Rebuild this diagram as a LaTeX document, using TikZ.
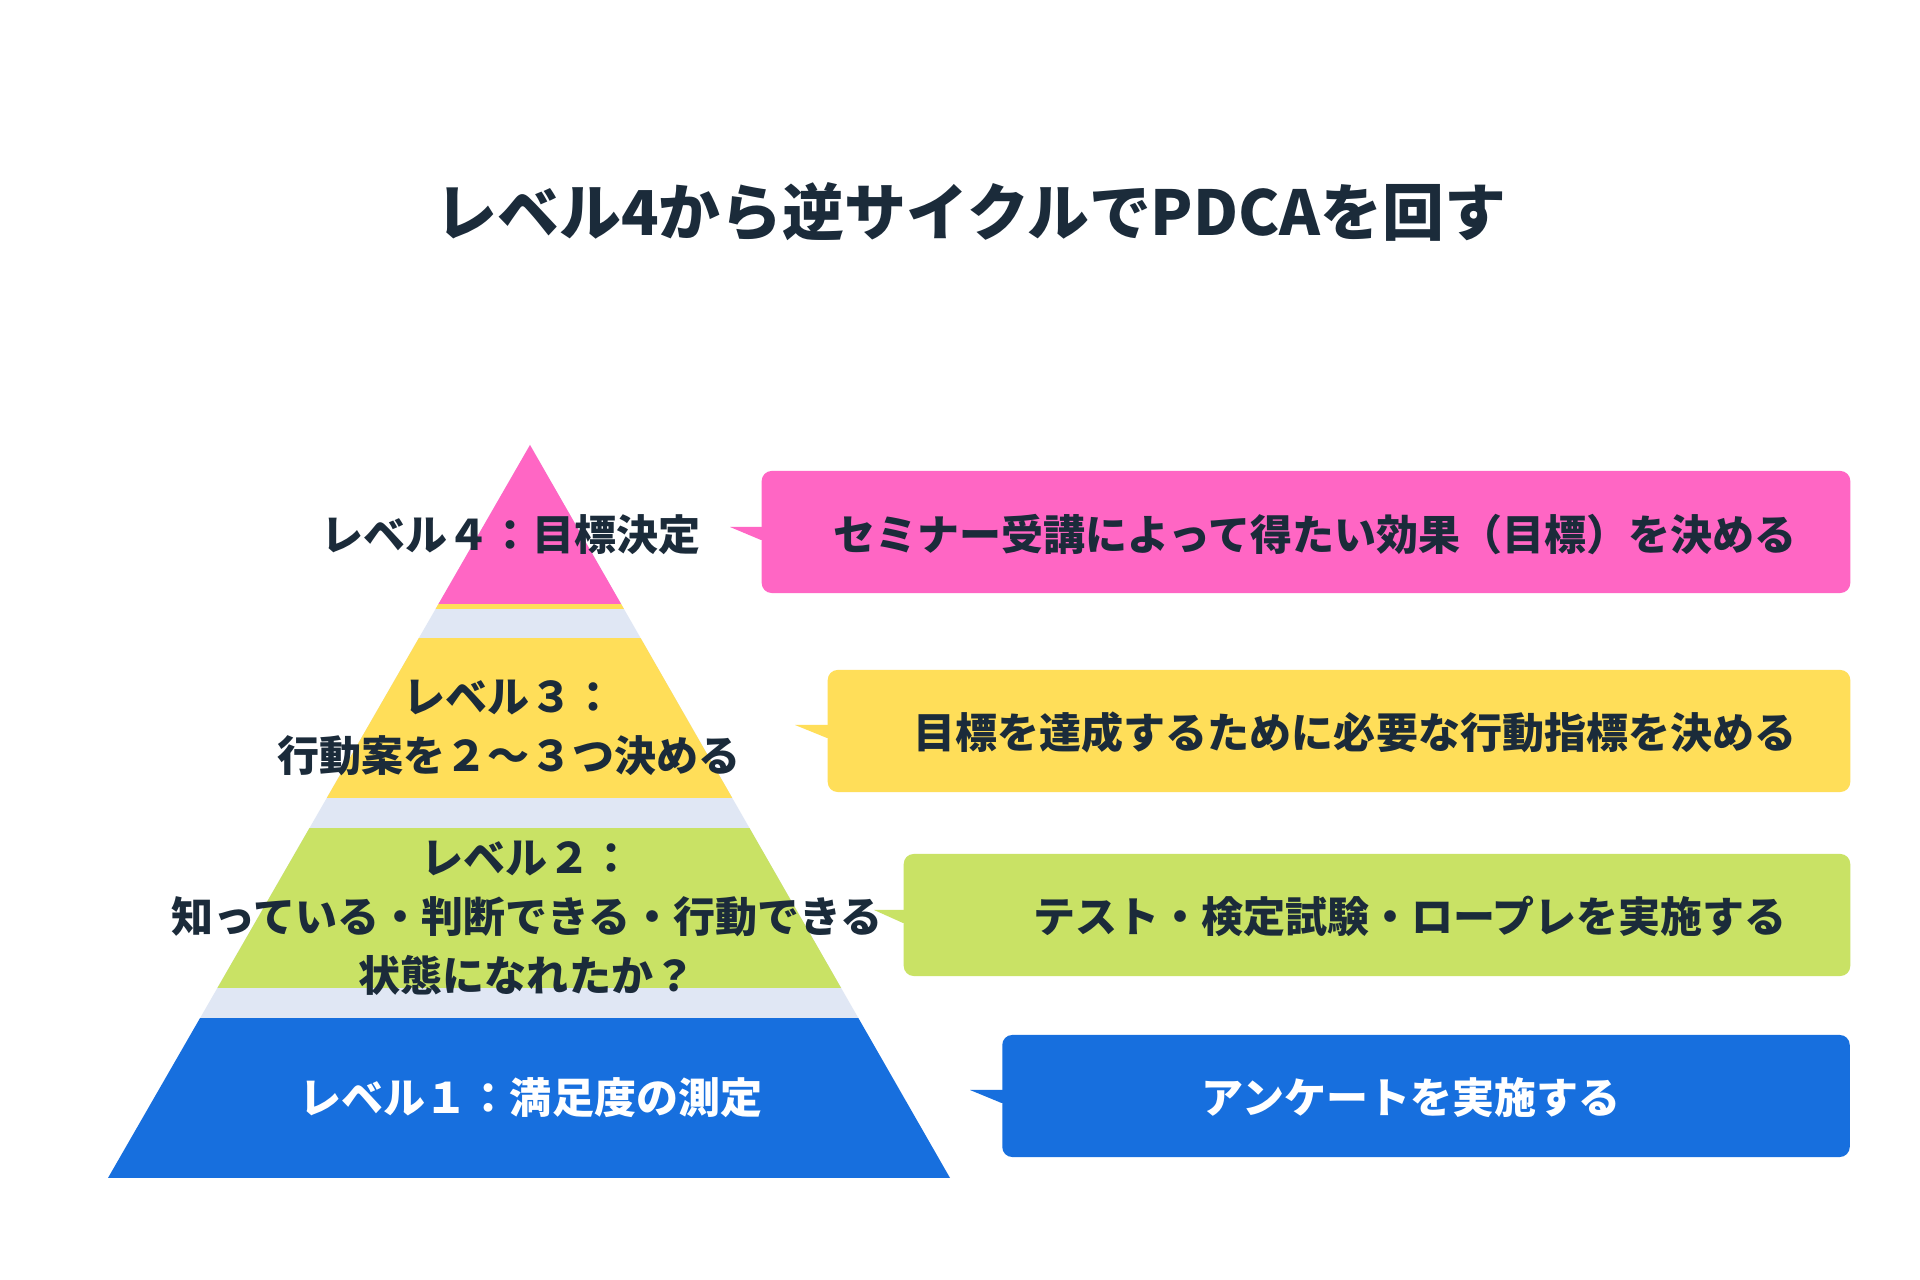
\documentclass[tikz,border=0pt]{standalone}
\usepackage{fontspec}
\newfontfamily\jpfont{Noto Sans CJK JP}
\usetikzlibrary{positioning}

\definecolor{lvpink}{HTML}{FF66C4}
\definecolor{lvyellow}{HTML}{FFDE59}
\definecolor{lvgreen}{HTML}{C9E265}
\definecolor{lvblue}{HTML}{176FDE}
\definecolor{lvgap}{HTML}{E0E7F4}
\definecolor{ink}{HTML}{1B2B3A}

\begin{document}
\begin{tikzpicture}[
    x=0.01cm, y=-0.01cm,
    every node/.style={font=\jpfont\bfseries\fontsize{11.95}{16.8}\selectfont, text=ink, inner sep=0pt},
    heading/.style={font=\jpfont\bfseries\fontsize{17.6}{20}\selectfont},
    level/.style={align=center},
    callout/.style={rectangle, rounded corners=1mm, minimum height=1.22cm},
    pointer/.style={fill=#1}
]

% Canvas
\fill[white] (0,0) rectangle (1920,1280);
\useasboundingbox (0,0) rectangle (1920,1280);

% Title
\node[heading] (title) at (971,212) {レベル4から逆サイクルでPDCAを回す};

% Pyramid
\coordinate (apex) at (530,445);
\coordinate (baseL) at (108,1178);
\coordinate (baseR) at (950,1178);
\fill[lvgap] (apex) -- (baseL) -- (baseR) -- cycle;
\begin{scope}
  \clip (apex) -- (baseL) -- (baseR) -- cycle;
  \fill[lvpink] (100,440) rectangle (960,604);
  \fill[lvyellow] (100,604) rectangle (960,609);
  \fill[lvyellow] (100,638) rectangle (960,798);
  \fill[lvgreen] (100,828) rectangle (960,988);
  \fill[lvblue] (100,1018) rectangle (960,1180);
\end{scope}

% Levels
\node[level] (lv4) at (511,535) {レベル４：目標決定};
\node[level] (lv3) at (509,728) {レベル３：\\行動案を２〜３つ決める};
\node[level] (lv2) at (527,918) {レベル２：\\知っている・判断できる・行動できる\\状態になれたか？};
\node[level, text=white] (lv1) at (531,1098) {レベル１：満足度の測定};

% Callouts
\node[callout, fill=lvpink, minimum width=10.88cm] (box4) at (1306,532) {};
\node[callout, fill=lvyellow, minimum width=10.22cm] (box3) at (1339,731) {};
\node[callout, fill=lvgreen, minimum width=9.46cm] (box2) at (1377,915) {};
\node[callout, fill=lvblue, minimum width=8.47cm] (box1) at (1426,1096) {};

\coordinate (tip4) at (730,527);
\coordinate (tip3) at (795,725);
\coordinate (tip2) at (874,910);
\coordinate (tip1) at (970,1090);

\fill[pointer=lvpink] (tip4) -- ([xshift=1mm] tip4 -| box4.west) -- ([xshift=1mm, yshift=-1.3mm] tip4 -| box4.west) -- ([yshift=-1.3mm] tip4 -| box4.west) -- cycle;
\fill[pointer=lvyellow] (tip3) -- ([xshift=1mm] tip3 -| box3.west) -- ([xshift=1mm, yshift=-1.3mm] tip3 -| box3.west) -- ([yshift=-1.3mm] tip3 -| box3.west) -- cycle;
\fill[pointer=lvgreen] (tip2) -- ([xshift=1mm] tip2 -| box2.west) -- ([xshift=1mm, yshift=-1.3mm] tip2 -| box2.west) -- ([yshift=-1.3mm] tip2 -| box2.west) -- cycle;
\fill[pointer=lvblue] (tip1) -- ([xshift=1mm] tip1 -| box1.west) -- ([xshift=1mm, yshift=-1.3mm] tip1 -| box1.west) -- ([yshift=-1.3mm] tip1 -| box1.west) -- cycle;

\node (goal) at (1315,535) {セミナー受講によって得たい効果（目標）を決める};
\node (kpi) at (1355,733) {目標を達成するために必要な行動指標を決める};
\node (test) at (1410,916) {テスト・検定試験・ロープレを実施する};
\node[text=white] (survey) at (1411,1098) {アンケートを実施する};

\end{tikzpicture}
\end{document}
